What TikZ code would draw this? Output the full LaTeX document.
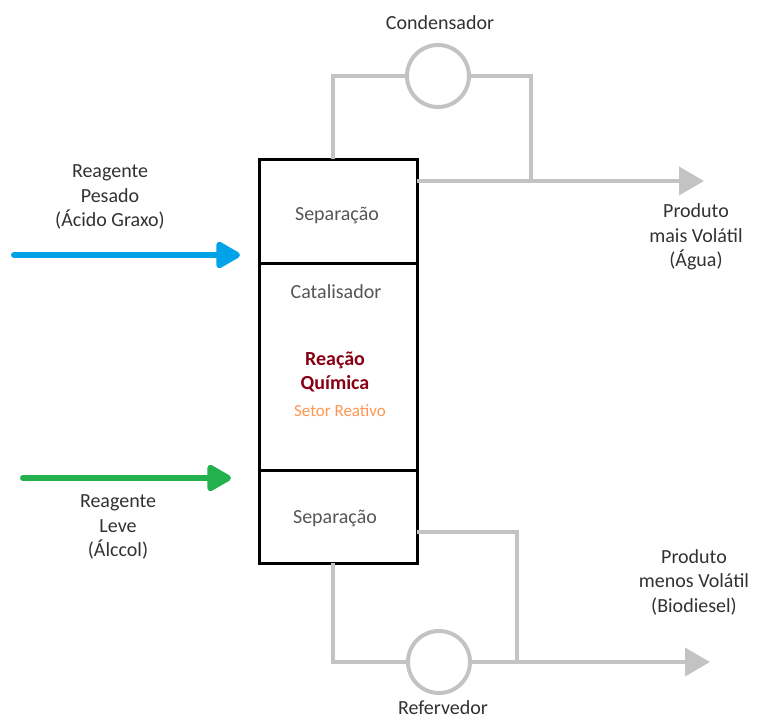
\documentclass[tikz,border=0pt]{standalone}
\usepackage{fontspec}
\setmainfont{Carlito}
\usetikzlibrary{arrows.meta}
\definecolor{pipegray}{RGB}{195,195,195}
\definecolor{feedblue}{RGB}{0,162,232}
\definecolor{feedgreen}{RGB}{34,177,76}
\definecolor{reacred}{RGB}{136,0,21}
\definecolor{setororange}{RGB}{255,150,80}
\definecolor{labelgray}{RGB}{50,50,50}
\definecolor{innergray}{RGB}{85,85,85}
\begin{document}
\begin{tikzpicture}[x=1pt,y=-1pt,
  lbl/.style={text=labelgray,font=\fontsize{20}{24.5}\selectfont,align=center,inner sep=0pt},
  colbox/.style={draw=black,line width=3pt,minimum width=158pt,inner sep=0pt},
  pipe/.style={draw=pipegray,line width=4pt},
  pipearrow/.style={pipe,-{Triangle[length=25pt,width=28pt]}},
  unit/.style={circle,draw=pipegray,line width=4pt,minimum size=62pt,inner sep=0pt},
  feed/.style={line width=6pt,line cap=round,-{Triangle[length=27pt,width=29pt,round]}}]
\useasboundingbox (0,0) rectangle (758,720);
% column
\node[colbox,minimum height=104pt] (top) at (338,211) {};
\node[colbox,minimum height=207pt] (mid) at (338,366.5) {};
\node[colbox,minimum height=93pt] (bot) at (338,516.5) {};
% condenser and reboiler
\node[unit] (cond) at (438,76) {};
\node[unit] (reb) at (439,662) {};
% pipe coordinates
\coordinate (c1) at (333,159);
\coordinate (c2) at (531,181);
\coordinate (t1) at (417,181);
\coordinate (t2) at (704,181);
\coordinate (b1) at (417,532);
\coordinate (b2) at (517,662);
\coordinate (c3) at (333,563);
\coordinate (b3) at (710,662);
\draw[pipe] (c1) |- (cond.west);
\draw[pipe] (cond.east) -| (c2);
\draw[pipearrow] (t1) -- (t2);
\draw[pipe] (b1) -| (b2);
\draw[pipe] (c3) |- (reb.west);
\draw[pipearrow] (reb.east) -- (b3);
% feeds
\coordinate (f1s) at (14,255);
\coordinate (f1e) at (240,255);
\coordinate (f2s) at (23,478);
\coordinate (f2e) at (231,478);
\draw[feed,feedblue] (f1s) -- (f1e);
\draw[feed,feedgreen] (f2s) -- (f2e);
% labels
\node[lbl] (lcond) at (440,23) {Condensador};
\node[lbl] (lreb) at (443,708) {Refervedor};
\node[lbl] (lpes) at (110,197) {Reagente\\Pesado\\(Ácido Graxo)};
\node[lbl] (llev) at (118,527) {Reagente\\Leve\\(Álccol)};
\node[lbl] (lmais) at (696,237) {Produto\\mais Volátil\\(Água)};
\node[lbl] (lmenos) at (694,582) {Produto\\menos Volátil\\(Biodiesel)};
\node[lbl,text=innergray] (lsep1) at (337,215) {Separação};
\node[lbl,text=innergray] (lcat) at (336,292) {Catalisador};
\node[lbl,text=reacred,font=\fontsize{20}{24}\selectfont\bfseries] (lreac) at (335,372) {Reação\\Química};
\node[lbl,text=setororange,font=\fontsize{17}{20}\selectfont] (lset) at (340,411) {Setor Reativo};
\node[lbl,text=innergray] (lsep2) at (335,518) {Separação};
\end{tikzpicture}
\end{document}
